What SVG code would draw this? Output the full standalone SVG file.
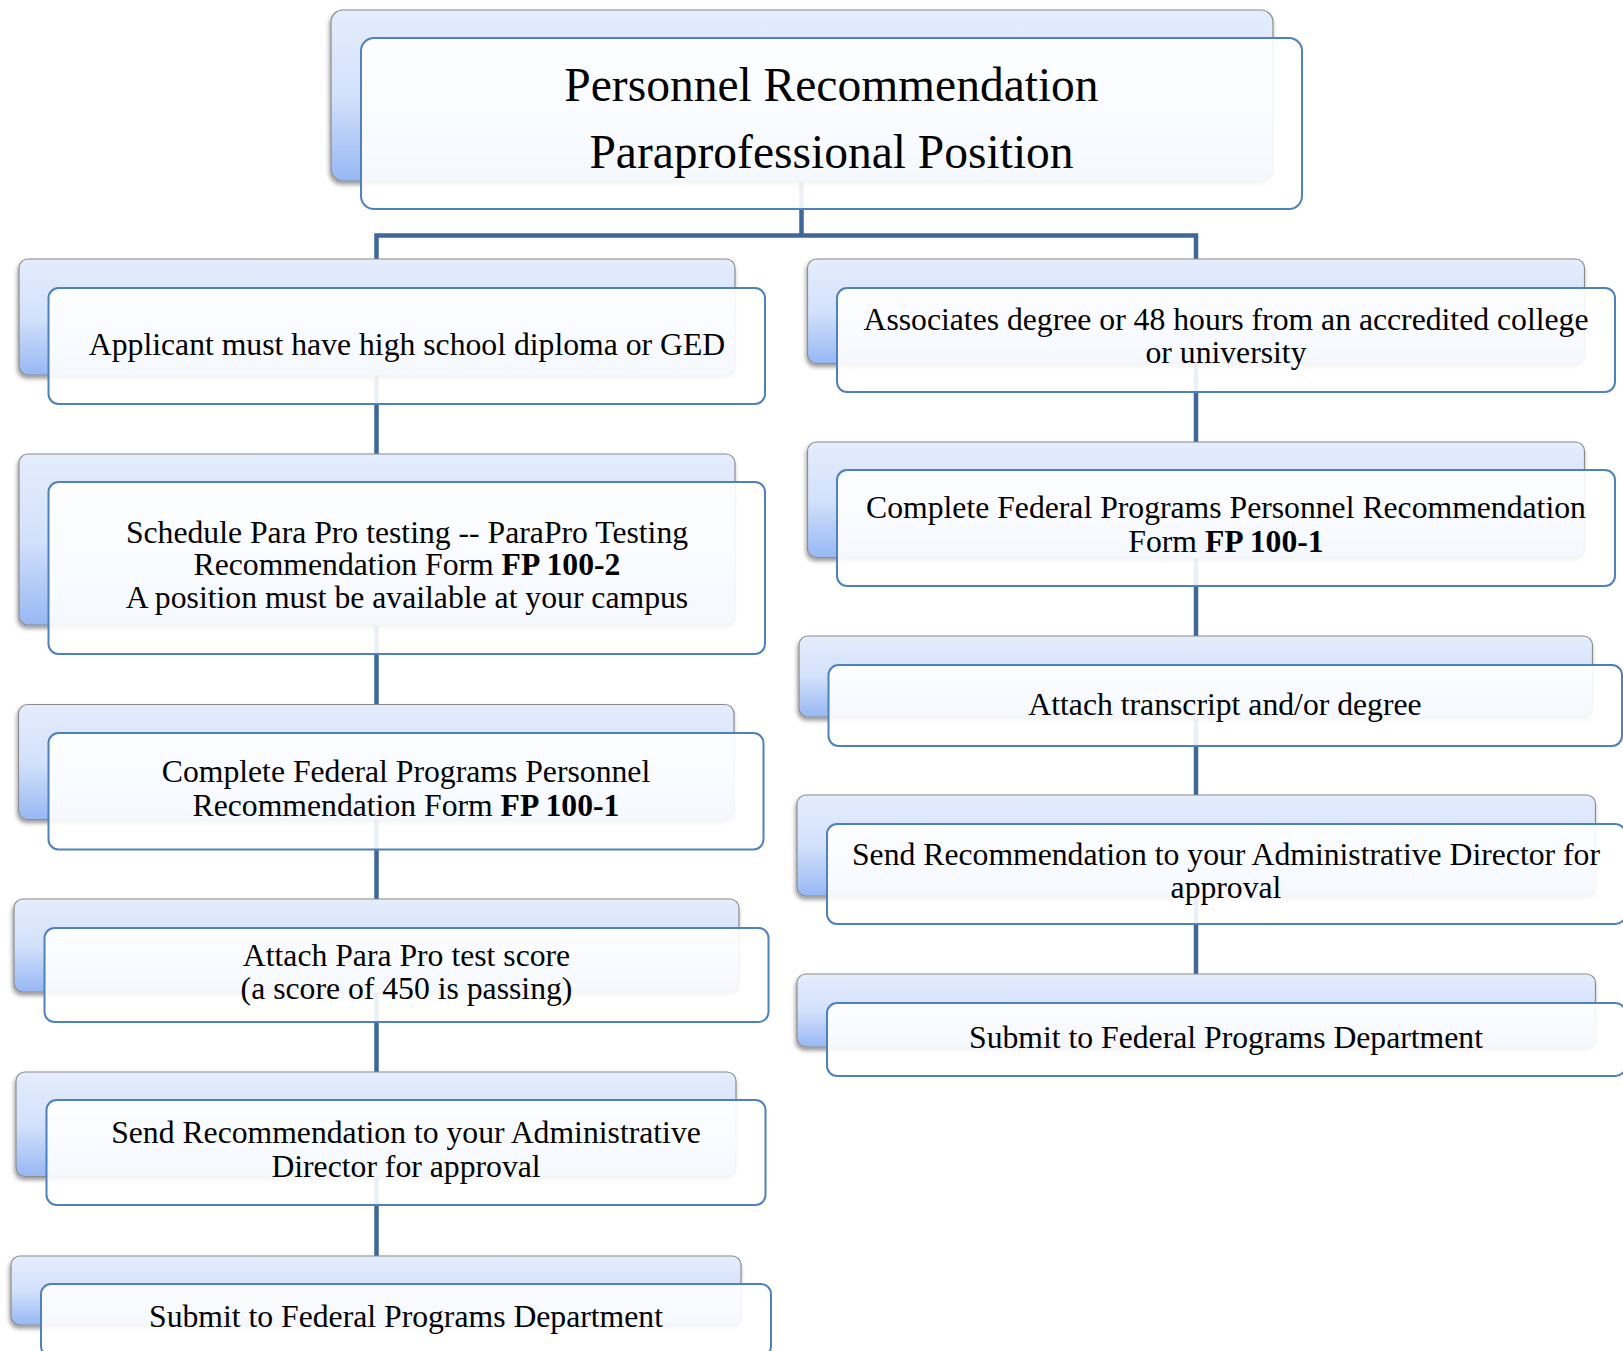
<svg xmlns="http://www.w3.org/2000/svg" width="1623" height="1351" viewBox="0 0 1623 1351">
  <defs>
    <linearGradient id="bg" x1="0" y1="0" x2="0" y2="1">
      <stop offset="0" stop-color="#e5edfd"/>
      <stop offset="0.5" stop-color="#d3e1fb"/>
      <stop offset="1" stop-color="#97b8f4"/>
    </linearGradient>
    <filter id="sh" x="-5%" y="-10%" width="110%" height="125%">
      <feDropShadow dx="-1" dy="3" stdDeviation="2" flood-color="#000" flood-opacity="0.4"/>
    </filter>
    <style>
      .back { fill: url(#bg); stroke: #8c8c8c; stroke-width: 1.2; filter: url(#sh); }
      .front { fill: #ffffff; fill-opacity: 0.9; stroke: #4f81bd; stroke-width: 2; }
      .t { font-family: "Liberation Serif", "Times New Roman", serif; font-size: 31.7px; fill: #000; text-anchor: middle; }
      .title { font-size: 47.5px; }
      .b { font-weight: bold; }
      .conn { fill: none; stroke: #3f6797; stroke-width: 4.5; stroke-linejoin: miter; }
    </style>
  </defs>
  <rect width="1623" height="1351" fill="#ffffff"/>

  <g id="connectors">
    <path class="conn" d="M801.5 181 V235.5"/>
    <path class="conn" d="M376.5 259 V235.5 H1196 V259"/>
    <path class="conn" d="M376.5 259 V1256"/>
    <path class="conn" d="M1196 259 V974"/>
  </g>

  <g id="node-top">
    <rect class="back" x="331" y="10" width="942" height="171" rx="12"/>
    <rect class="front" x="361" y="38" width="941" height="171" rx="13"/>
    <text class="t title" x="831.5" y="101">Personnel Recommendation</text>
    <text class="t title" x="831.5" y="168">Paraprofessional Position</text>
  </g>

  <g id="node-l1">
    <rect class="back" x="19" y="259" width="716" height="116" rx="9"/>
    <rect class="front" x="48.5" y="288" width="716.5" height="116" rx="10"/>
    <text class="t" x="407" y="355">Applicant must have high school diploma or GED</text>
  </g>

  <g id="node-l2">
    <rect class="back" x="19" y="454" width="716" height="171" rx="9"/>
    <rect class="front" x="48.5" y="482" width="716.5" height="172" rx="10"/>
    <text class="t" x="407" y="543">Schedule Para Pro testing -- ParaPro Testing</text>
    <text class="t" x="407" y="575">Recommendation Form <tspan class="b">FP 100-2</tspan></text>
    <text class="t" x="407" y="608">A position must be available at your campus</text>
  </g>

  <g id="node-l3">
    <rect class="back" x="18.5" y="704.5" width="715.5" height="115" rx="9"/>
    <rect class="front" x="48.5" y="733" width="715" height="116.5" rx="10"/>
    <text class="t" x="406" y="782">Complete Federal Programs Personnel</text>
    <text class="t" x="406" y="816">Recommendation Form <tspan class="b">FP 100-1</tspan></text>
  </g>

  <g id="node-l4">
    <rect class="back" x="14" y="899" width="725" height="93" rx="9"/>
    <rect class="front" x="44.5" y="928" width="724" height="94" rx="10"/>
    <text class="t" x="406.5" y="966">Attach Para Pro test score</text>
    <text class="t" x="406.5" y="999">(a score of 450 is passing)</text>
  </g>

  <g id="node-l5">
    <rect class="back" x="16" y="1072" width="720" height="104.5" rx="9"/>
    <rect class="front" x="46.5" y="1100" width="719" height="105" rx="10"/>
    <text class="t" x="406" y="1143">Send Recommendation to your Administrative</text>
    <text class="t" x="406" y="1177">Director for approval</text>
  </g>

  <g id="node-l6">
    <rect class="back" x="11" y="1256" width="730" height="69" rx="9"/>
    <rect class="front" x="41" y="1284" width="730" height="72" rx="10"/>
    <text class="t" x="406" y="1327">Submit to Federal Programs Department</text>
  </g>

  <g id="node-r1">
    <rect class="back" x="807.5" y="259" width="777" height="104.5" rx="9"/>
    <rect class="front" x="837" y="288" width="778" height="104" rx="10"/>
    <text class="t" x="1226" y="330">Associates degree or 48 hours from an accredited college</text>
    <text class="t" x="1226" y="363">or university</text>
  </g>

  <g id="node-r2">
    <rect class="back" x="807.5" y="442" width="777" height="115.5" rx="9"/>
    <rect class="front" x="837" y="470" width="778" height="116" rx="10"/>
    <text class="t" x="1226" y="518">Complete Federal Programs Personnel Recommendation</text>
    <text class="t" x="1226" y="552">Form <tspan class="b">FP 100-1</tspan></text>
  </g>

  <g id="node-r3">
    <rect class="back" x="799" y="636" width="793.5" height="81" rx="9"/>
    <rect class="front" x="828.5" y="665" width="793.5" height="81" rx="10"/>
    <text class="t" x="1225" y="715">Attach transcript and/or degree</text>
  </g>

  <g id="node-r4">
    <rect class="back" x="797" y="795" width="798.5" height="101" rx="9"/>
    <rect class="front" x="827" y="824" width="798.5" height="100" rx="10"/>
    <text class="t" x="1226" y="865">Send Recommendation to your Administrative Director for</text>
    <text class="t" x="1226" y="898">approval</text>
  </g>

  <g id="node-r5">
    <rect class="back" x="797" y="974" width="798.5" height="73" rx="9"/>
    <rect class="front" x="827" y="1003" width="798.5" height="73" rx="10"/>
    <text class="t" x="1226" y="1048">Submit to Federal Programs Department</text>
  </g>
</svg>
